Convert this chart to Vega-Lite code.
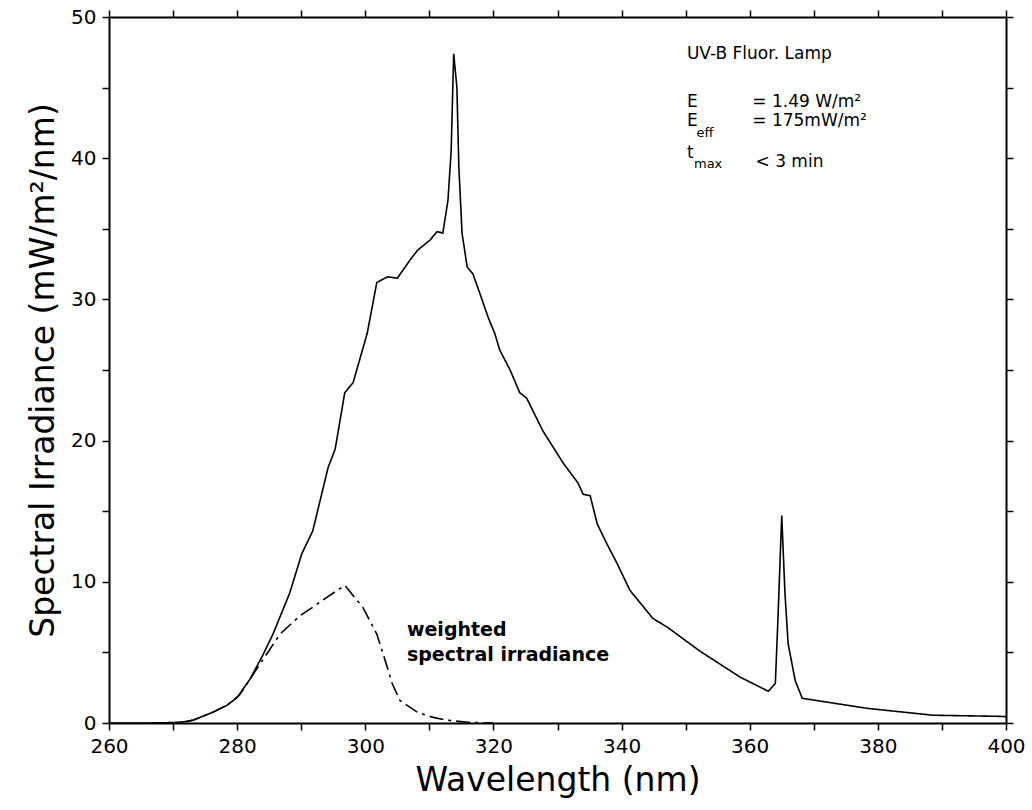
{
  "$schema": "https://vega.github.io/schema/vega-lite/v6.json",
  "width": 897,
  "height": 706,
  "autosize": {"type": "none"},
  "padding": {"left": 109, "top": 17, "right": 26, "bottom": 87},
  "background": "white",
  "config": {
    "view": {"stroke": null},
    "font": "DejaVu Sans",
    "axis": {
      "grid": false,
      "domainColor": "black",
      "domainWidth": 2,
      "tickColor": "black",
      "tickWidth": 1.5,
      "tickSize": 7,
      "labelColor": "black",
      "labelFont": "DejaVu Sans",
      "labelFontSize": 20,
      "labelPadding": 6,
      "labelFlush": false,
      "labelOverlap": false,
      "titleColor": "black",
      "titleFont": "DejaVu Sans",
      "titleFontSize": 33,
      "titleFontWeight": "normal"
    }
  },
  "datasets": {
    "spectrum": [
      {"wl": 260, "irr": 0, "series": "lamp"},
      {"wl": 266, "irr": 0, "series": "lamp"},
      {"wl": 270, "irr": 0.03, "series": "lamp"},
      {"wl": 272, "irr": 0.1, "series": "lamp"},
      {"wl": 273.1, "irr": 0.2, "series": "lamp"},
      {"wl": 276.2, "irr": 0.76, "series": "lamp"},
      {"wl": 278.4, "irr": 1.25, "series": "lamp"},
      {"wl": 280, "irr": 1.8, "series": "lamp"},
      {"wl": 282, "irr": 3.1, "series": "lamp"},
      {"wl": 284, "irr": 4.8, "series": "lamp"},
      {"wl": 285.6, "irr": 6.3, "series": "lamp"},
      {"wl": 288.2, "irr": 9.2, "series": "lamp"},
      {"wl": 290.1, "irr": 12.0, "series": "lamp"},
      {"wl": 291.8, "irr": 13.6, "series": "lamp"},
      {"wl": 294.2, "irr": 18.1, "series": "lamp"},
      {"wl": 295.3, "irr": 19.4, "series": "lamp"},
      {"wl": 296.8, "irr": 23.4, "series": "lamp"},
      {"wl": 298.1, "irr": 24.1, "series": "lamp"},
      {"wl": 300.3, "irr": 27.6, "series": "lamp"},
      {"wl": 301.8, "irr": 31.2, "series": "lamp"},
      {"wl": 303.5, "irr": 31.6, "series": "lamp"},
      {"wl": 305, "irr": 31.5, "series": "lamp"},
      {"wl": 307, "irr": 32.8, "series": "lamp"},
      {"wl": 308.2, "irr": 33.5, "series": "lamp"},
      {"wl": 310.1, "irr": 34.2, "series": "lamp"},
      {"wl": 311.2, "irr": 34.8, "series": "lamp"},
      {"wl": 312.1, "irr": 34.7, "series": "lamp"},
      {"wl": 312.9, "irr": 37.0, "series": "lamp"},
      {"wl": 313.4, "irr": 40.5, "series": "lamp"},
      {"wl": 313.8, "irr": 47.4, "series": "lamp"},
      {"wl": 314.3, "irr": 45.0, "series": "lamp"},
      {"wl": 314.6, "irr": 39.4, "series": "lamp"},
      {"wl": 315.1, "irr": 34.7, "series": "lamp"},
      {"wl": 315.9, "irr": 32.3, "series": "lamp"},
      {"wl": 316.8, "irr": 31.8, "series": "lamp"},
      {"wl": 317.9, "irr": 30.4, "series": "lamp"},
      {"wl": 319.2, "irr": 28.7, "series": "lamp"},
      {"wl": 320.2, "irr": 27.6, "series": "lamp"},
      {"wl": 321, "irr": 26.4, "series": "lamp"},
      {"wl": 322.6, "irr": 25.0, "series": "lamp"},
      {"wl": 324.1, "irr": 23.4, "series": "lamp"},
      {"wl": 325.2, "irr": 23.0, "series": "lamp"},
      {"wl": 327.7, "irr": 20.7, "series": "lamp"},
      {"wl": 330.9, "irr": 18.4, "series": "lamp"},
      {"wl": 333.2, "irr": 17.0, "series": "lamp"},
      {"wl": 334, "irr": 16.2, "series": "lamp"},
      {"wl": 335.1, "irr": 16.1, "series": "lamp"},
      {"wl": 336.2, "irr": 14.1, "series": "lamp"},
      {"wl": 337.7, "irr": 12.7, "series": "lamp"},
      {"wl": 339.3, "irr": 11.3, "series": "lamp"},
      {"wl": 341.3, "irr": 9.4, "series": "lamp"},
      {"wl": 344.9, "irr": 7.4, "series": "lamp"},
      {"wl": 347.1, "irr": 6.8, "series": "lamp"},
      {"wl": 352.2, "irr": 5.1, "series": "lamp"},
      {"wl": 358.5, "irr": 3.25, "series": "lamp"},
      {"wl": 362.9, "irr": 2.25, "series": "lamp"},
      {"wl": 364, "irr": 2.8, "series": "lamp"},
      {"wl": 364.4, "irr": 7.3, "series": "lamp"},
      {"wl": 365, "irr": 14.7, "series": "lamp"},
      {"wl": 365.5, "irr": 9.2, "series": "lamp"},
      {"wl": 366, "irr": 5.6, "series": "lamp"},
      {"wl": 367.1, "irr": 3.0, "series": "lamp"},
      {"wl": 368.2, "irr": 1.75, "series": "lamp"},
      {"wl": 378.3, "irr": 1.04, "series": "lamp"},
      {"wl": 388.6, "irr": 0.55, "series": "lamp"},
      {"wl": 399, "irr": 0.47, "series": "lamp"},
      {"wl": 400, "irr": 0.45, "series": "lamp"},
      {"wl": 272, "irr": 0.1, "series": "weighted"},
      {"wl": 273.1, "irr": 0.2, "series": "weighted"},
      {"wl": 276.2, "irr": 0.76, "series": "weighted"},
      {"wl": 278.4, "irr": 1.25, "series": "weighted"},
      {"wl": 280.4, "irr": 2.0, "series": "weighted"},
      {"wl": 283.6, "irr": 4.2, "series": "weighted"},
      {"wl": 286.7, "irr": 6.3, "series": "weighted"},
      {"wl": 289.8, "irr": 7.6, "series": "weighted"},
      {"wl": 291.8, "irr": 8.2, "series": "weighted"},
      {"wl": 294, "irr": 8.9, "series": "weighted"},
      {"wl": 296.8, "irr": 9.75, "series": "weighted"},
      {"wl": 299.6, "irr": 8.2, "series": "weighted"},
      {"wl": 301.8, "irr": 6.3, "series": "weighted"},
      {"wl": 303.4, "irr": 4.0, "series": "weighted"},
      {"wl": 304.2, "irr": 2.8, "series": "weighted"},
      {"wl": 305.4, "irr": 1.6, "series": "weighted"},
      {"wl": 308.1, "irr": 0.77, "series": "weighted"},
      {"wl": 310.6, "irr": 0.4, "series": "weighted"},
      {"wl": 312.7, "irr": 0.2, "series": "weighted"},
      {"wl": 316, "irr": 0.05, "series": "weighted"},
      {"wl": 320, "irr": 0, "series": "weighted"}
    ],
    "notes": [
      {"x": 350.2, "y": 47.4, "t": "UV-B Fluor. Lamp", "kind": "plain"},
      {"x": 350.2, "y": 44.0, "t": "E", "kind": "plain"},
      {"x": 360.4, "y": 44.0, "t": "= 1.49 W/m²", "kind": "plain"},
      {"x": 350.2, "y": 42.6, "t": "E", "kind": "plain"},
      {"x": 360.4, "y": 42.6, "t": "= 175mW/m²", "kind": "plain"},
      {"x": 350.2, "y": 40.4, "t": "t", "kind": "plain"},
      {"x": 360.9, "y": 39.75, "t": "< 3 min", "kind": "plain"},
      {"x": 306.5, "y": 6.6, "t": "weighted", "kind": "bold"},
      {"x": 306.5, "y": 4.8, "t": "spectral irradiance", "kind": "bold"}
    ],
    "subs": [
      {"x": 351.7, "y": 41.8, "t": "eff"},
      {"x": 351.3, "y": 39.6, "t": "max"}
    ]
  },
  "layer": [
    {
      "data": {"name": "spectrum"},
      "mark": {"type": "line", "color": "black", "strokeWidth": 1.6, "interpolate": "linear"},
      "encoding": {
        "x": {
          "field": "wl", "type": "quantitative",
          "scale": {"domain": [260, 400], "nice": false, "zero": false},
          "axis": {
            "orient": "bottom",
            "values": [260, 270, 280, 290, 300, 310, 320, 330, 340, 350, 360, 370, 380, 390, 400],
            "labelExpr": "datum.value % 20 === 0 ? datum.label : ''",
            "title": "Wavelength (nm)",
            "titlePadding": 8
          }
        },
        "y": {
          "field": "irr", "type": "quantitative",
          "scale": {"domain": [0, 50], "nice": false},
          "axis": {
            "orient": "left",
            "values": [0, 5, 10, 15, 20, 25, 30, 35, 40, 45, 50],
            "labelExpr": "datum.value % 10 === 0 ? datum.label : ''",
            "title": "Spectral Irradiance (mW/m²/nm)",
            "titlePadding": 10
          }
        },
        "strokeDash": {
          "field": "series", "type": "nominal",
          "scale": {"domain": ["lamp", "weighted"], "range": [[1, 0], [14, 5, 3, 5]]},
          "legend": null
        }
      }
    },
    {
      "data": {"name": "notes"},
      "transform": [{"filter": "datum.kind === 'plain'"}],
      "mark": {"type": "text", "align": "left", "baseline": "middle", "fontSize": 17, "color": "black", "font": "DejaVu Sans"},
      "encoding": {
        "x": {
          "field": "x", "type": "quantitative",
          "axis": {
            "orient": "top",
            "values": [260, 270, 280, 290, 300, 310, 320, 330, 340, 350, 360, 370, 380, 390, 400],
            "labels": false, "title": null
          }
        },
        "y": {
          "field": "y", "type": "quantitative",
          "axis": {
            "orient": "right",
            "values": [0, 5, 10, 15, 20, 25, 30, 35, 40, 45, 50],
            "labels": false, "title": null
          }
        },
        "text": {"field": "t"}
      }
    },
    {
      "data": {"name": "notes"},
      "transform": [{"filter": "datum.kind === 'bold'"}],
      "mark": {"type": "text", "align": "left", "baseline": "middle", "fontSize": 19, "fontWeight": "bold", "color": "black", "font": "DejaVu Sans"},
      "encoding": {
        "x": {"field": "x", "type": "quantitative", "axis": null},
        "y": {"field": "y", "type": "quantitative", "axis": null},
        "text": {"field": "t"}
      }
    },
    {
      "data": {"name": "subs"},
      "mark": {"type": "text", "align": "left", "baseline": "middle", "fontSize": 13, "color": "black", "font": "DejaVu Sans"},
      "encoding": {
        "x": {"field": "x", "type": "quantitative", "axis": null},
        "y": {"field": "y", "type": "quantitative", "axis": null},
        "text": {"field": "t"}
      }
    }
  ],
  "resolve": {"axis": {"x": "independent", "y": "independent"}}
}
